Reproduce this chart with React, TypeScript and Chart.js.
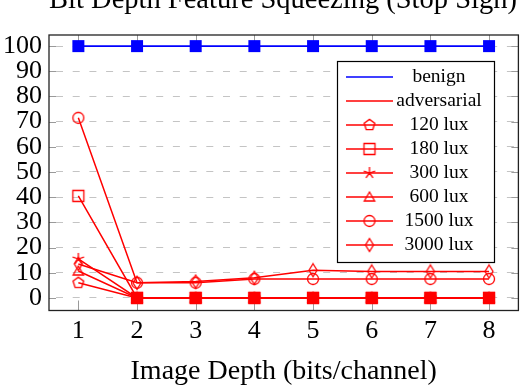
import React, { useEffect, useRef } from 'react';
import { Chart, registerables } from 'chart.js';

Chart.register(...registerables);

const depths = [1, 2, 3, 4, 5, 6, 7, 8];
const benign = [100, 100, 100, 100, 100, 100, 100, 100];
const adversarial = [null, 0, 0, 0, 0, 0, 0, 0];
const lux120 = [6, 0, 0, 0, 0, 0, 0, 0];
const lux180 = [40.5, 0, 0, 0, 0, 0, 0, 0];
const lux300 = [15.5, 0, 0, 0, 0, 0, 0, 0];
const lux600 = [10.7, 0, 0, 0, 0, 0, 0, 0];
const lux1500 = [71.5, 6, 6, 7.5, 7.5, 7.5, 7.5, 7.5];
const lux3000 = [13.5, 6, 6.5, 8, 11, 10.5, 10.5, 10.5];
const yTicks = [0, 10, 20, 30, 40, 50, 60, 70, 80, 90, 100];
const seriesLabels = ['benign', 'adversarial', '120 lux', '180 lux', '300 lux', '600 lux', '1500 lux', '3000 lux'];
const titleText = 'Bit Depth Feature Squeezing (Stop Sign)';
const xTitleText = 'Image Depth (bits/channel)';

const FONT = '"Liberation Serif", "Times New Roman", serif';
const BLUE = '#0000ff';
const RED = '#ff0000';

function makeMarker(kind: string, color: string): HTMLCanvasElement {
  const c = document.createElement('canvas');
  c.width = 16;
  c.height = 16;
  const g = c.getContext('2d')!;
  g.strokeStyle = color;
  g.fillStyle = color;
  g.lineWidth = 1.3;
  const cx = 8, cy = 8;
  g.beginPath();
  if (kind === 'filledSquare') {
    g.fillRect(2, 2, 12, 12);
    return c;
  } else if (kind === 'square') {
    g.rect(2.5, 2.5, 11, 11);
  } else if (kind === 'circle') {
    g.arc(cx, cy, 5.5, 0, Math.PI * 2);
  } else if (kind === 'pentagon') {
    for (let i = 0; i < 5; i++) {
      const a = (-90 + 72 * i) * Math.PI / 180;
      const px = cx + 5.6 * Math.cos(a), py = cy + 5.6 * Math.sin(a);
      if (i === 0) g.moveTo(px, py); else g.lineTo(px, py);
    }
    g.closePath();
  } else if (kind === 'triangle') {
    for (let i = 0; i < 3; i++) {
      const a = (-90 + 120 * i) * Math.PI / 180;
      const px = cx + 6 * Math.cos(a), py = cy + 1 + 6 * Math.sin(a);
      if (i === 0) g.moveTo(px, py); else g.lineTo(px, py);
    }
    g.closePath();
  } else if (kind === 'diamond') {
    g.moveTo(cx, cy - 6.5);
    g.lineTo(cx + 4, cy);
    g.lineTo(cx, cy + 6.5);
    g.lineTo(cx - 4, cy);
    g.closePath();
  } else if (kind === 'star') {
    for (let i = 0; i < 5; i++) {
      const a = (-90 + 72 * i) * Math.PI / 180;
      g.moveTo(cx, cy);
      g.lineTo(cx + 6 * Math.cos(a), cy + 6 * Math.sin(a));
    }
  }
  g.stroke();
  return c;
}

export default function App() {
  const ref = useRef<HTMLCanvasElement>(null);

  useEffect(() => {
    const canvas = ref.current;
    if (!canvas) return;

    const mk = {
      blueSq: makeMarker('filledSquare', BLUE),
      redSq: makeMarker('filledSquare', RED),
      pentagon: makeMarker('pentagon', RED),
      square: makeMarker('square', RED),
      star: makeMarker('star', RED),
      triangle: makeMarker('triangle', RED),
      circle: makeMarker('circle', RED),
      diamond: makeMarker('diamond', RED),
    };

    const seriesValues = [benign, adversarial, lux120, lux180, lux300, lux600, lux1500, lux3000];
    const seriesColors = [BLUE, RED, RED, RED, RED, RED, RED, RED];
    const seriesWidths = [1.6, 1.5, 1.5, 1.5, 1.5, 1.5, 1.5, 1.5];
    const plotMarkers = [mk.blueSq, mk.redSq, mk.pentagon, mk.square, mk.star, mk.triangle, mk.circle, mk.diamond];
    const legendMarkers = [null, null, mk.pentagon, mk.square, mk.star, mk.triangle, mk.circle, mk.diamond];

    const datasets = seriesLabels.map((label, i) => ({
      label,
      data: depths.map((d, j) => ({ x: d, y: seriesValues[i][j] })),
      borderColor: seriesColors[i],
      backgroundColor: seriesColors[i],
      borderWidth: seriesWidths[i],
      pointStyle: plotMarkers[i] as any,
      pointRadius: 6,
      tension: 0,
      spanGaps: false,
      fill: false,
    }));

    const decor = {
      id: 'decor',
      beforeDatasetsDraw(chart: any) {
        const { ctx, chartArea: a, scales } = chart;
        ctx.save();
        ctx.strokeStyle = '#9a9a9a';
        ctx.lineWidth = 1;
        ctx.beginPath();
        depths.forEach((d) => {
          const px = Math.round(scales.x.getPixelForValue(d)) + 0.5;
          ctx.moveTo(px, a.bottom);
          ctx.lineTo(px, a.bottom - 10);
          ctx.moveTo(px, a.top);
          ctx.lineTo(px, a.top + 10);
        });
        yTicks.forEach((v) => {
          const py = Math.round(scales.y.getPixelForValue(v)) + 0.5;
          ctx.moveTo(a.left, py);
          ctx.lineTo(a.left + 7, py);
          ctx.moveTo(a.right, py);
          ctx.lineTo(a.right - 7, py);
        });
        ctx.stroke();
        ctx.restore();
      },
      afterDraw(chart: any) {
        const { ctx, chartArea: a } = chart;
        ctx.save();
        // frame
        ctx.strokeStyle = '#222';
        ctx.lineWidth = 1.3;
        ctx.strokeRect(a.left, a.top, a.right - a.left, a.bottom - a.top);

        // legend
        const lx0 = 337, ly0 = 61, lx1 = 494, ly1 = 262;
        ctx.fillStyle = '#ffffff';
        ctx.fillRect(lx0, ly0, lx1 - lx0, ly1 - ly0);
        ctx.strokeStyle = '#000';
        ctx.lineWidth = 1.2;
        ctx.strokeRect(lx0 + 0.5, ly0 + 0.5, lx1 - lx0, ly1 - ly0);
        chart.data.datasets.forEach((ds: any, i: number) => {
          const y = 77 + 24 * i;
          ctx.strokeStyle = ds.borderColor;
          ctx.lineWidth = ds.borderWidth;
          ctx.beginPath();
          ctx.moveTo(346, y);
          ctx.lineTo(393, y);
          ctx.stroke();
          const m = legendMarkers[i];
          if (m) ctx.drawImage(m, 369.5 - 8, y - 8);
          ctx.fillStyle = '#000';
          ctx.font = '19.5px ' + FONT;
          ctx.textAlign = 'center';
          ctx.textBaseline = 'middle';
          ctx.fillText(ds.label, 439, y);
        });

        // title (clipped at the top of the figure)
        ctx.fillStyle = '#000';
        ctx.font = '28.5px ' + FONT;
        ctx.textAlign = 'center';
        ctx.textBaseline = 'alphabetic';
        ctx.fillText(titleText, 283, 7.5);
        ctx.restore();
      },
    };

    const chart = new Chart(canvas, {
      type: 'line',
      data: { datasets: datasets as any },
      options: {
        animation: false,
        responsive: false,
        devicePixelRatio: 1,
        layout: { padding: { top: 35, right: 2, left: 0, bottom: 0 } },
        plugins: {
          legend: { display: false },
          title: { display: false },
          tooltip: { enabled: false },
        },
        scales: {
          x: {
            type: 'linear',
            min: 0.5,
            max: 8.5,
            afterBuildTicks: (s: any) => {
              s.ticks = depths.map((v) => ({ value: v }));
            },
            afterFit: (s: any) => {
              s.height = 75.5;
            },
            grid: { display: false, drawTicks: false },
            border: { display: false },
            ticks: {
              color: '#000',
              font: { family: FONT, size: 26 },
              padding: 5,
              autoSkip: false,
              maxRotation: 0,
              callback: (v: any) => String(v),
            },
            title: {
              display: true,
              text: xTitleText,
              color: '#000',
              font: { family: FONT, size: 28, lineHeight: 1 },
              padding: { top: 0, bottom: 0 },
            },
          },
          y: {
            type: 'linear',
            min: -5,
            max: 104.4,
            afterBuildTicks: (s: any) => {
              s.ticks = yTicks.map((v) => ({ value: v }));
            },
            afterFit: (s: any) => {
              s.width = 49;
            },
            grid: { color: '#c4c4c4', lineWidth: 1, drawTicks: false },
            border: { display: false, dash: [7, 9.7], dashOffset: 9.7 },
            ticks: {
              color: '#000',
              font: { family: FONT, size: 26 },
              padding: 7,
              autoSkip: false,
              callback: (v: any) => String(v),
            },
          },
        },
      },
      plugins: [decor],
    });

    return () => chart.destroy();
  }, []);

  return (
    <div style={{ position: 'fixed', left: 0, top: 0, width: 526, height: 386, background: '#fff' }}>
      <canvas ref={ref} width={526} height={386} style={{ display: 'block' }} />
    </div>
  );
}
